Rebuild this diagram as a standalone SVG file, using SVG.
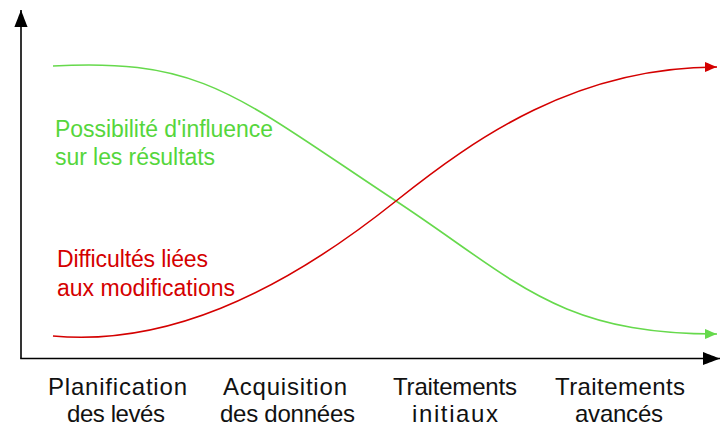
<svg xmlns="http://www.w3.org/2000/svg" width="721" height="427" viewBox="0 0 721 427">
  <style>
    .lbl { font-family: "Liberation Sans", Arial, sans-serif; font-size: 23px; }
    .tick { font-family: "Liberation Sans", Arial, sans-serif; font-size: 24px; fill: #111; }
    .axis { stroke: #000; stroke-width: 1.6; fill: none; }
    .curve { stroke-width: 1.6; fill: none; stroke-linecap: butt; }
    .red { stroke: #d40000; }
    .green { stroke: #66d94c; }
    .tred { fill: #d40000; }
    .tgreen { fill: #55d63c; }
  </style>
  <defs>
    <marker id="axArrow" markerUnits="userSpaceOnUse" orient="auto" markerWidth="20" markerHeight="16" viewBox="-18 -8 20 16" refX="0" refY="0" overflow="visible">
      <path d="M0,0 C-4,-1.6 -12,-4.6 -17,-6.6 L-17,6.6 C-12,4.6 -4,1.6 0,0 Z" fill="#000"/>
    </marker>
    <marker id="redArrow" markerUnits="userSpaceOnUse" orient="auto" markerWidth="14" markerHeight="12" viewBox="-13 -6 14 12" refX="0" refY="0" overflow="visible">
      <path d="M0,0 C-3,-1.2 -8,-3.2 -12,-5 L-12,5 C-8,3.2 -3,1.2 0,0 Z" fill="#d40000"/>
    </marker>
    <marker id="greenArrow" markerUnits="userSpaceOnUse" orient="auto" markerWidth="14" markerHeight="12" viewBox="-13 -6 14 12" refX="0" refY="0" overflow="visible">
      <path d="M0,0 C-3,-1.2 -8,-3.2 -12,-5 L-12,5 C-8,3.2 -3,1.2 0,0 Z" fill="#66d94c"/>
    </marker>
  </defs>

  <g id="axes">
    <line class="axis" x1="21" y1="358.5" x2="21" y2="10" marker-end="url(#axArrow)"/>
    <line class="axis" x1="20.2" y1="358.5" x2="720" y2="358.5" marker-end="url(#axArrow)"/>
  </g>

  <g id="connectors">
    <path id="curve-influence" class="curve green" d="M53,66 C203,58 236,95.4 396,201 C516,280 557,334 717,334" marker-end="url(#greenArrow)"/>
    <path id="curve-difficulty" class="curve red" d="M53,336 C163,346 276,297 396,201 C476,137 577,67 717,67" marker-end="url(#redArrow)"/>
  </g>

  <g id="label-influence">
    <text class="lbl tgreen" x="55" y="137" textLength="218" lengthAdjust="spacing">Possibilité d'influence</text>
    <text class="lbl tgreen" x="55" y="165" textLength="160" lengthAdjust="spacing">sur les résultats</text>
  </g>
  <g id="label-difficulty">
    <text class="lbl tred" x="57" y="267" textLength="151" lengthAdjust="spacing">Difficultés liées</text>
    <text class="lbl tred" x="57" y="296" textLength="178" lengthAdjust="spacing">aux modifications</text>
  </g>

  <g id="tick-planification">
    <text class="tick" x="48" y="395" textLength="139" lengthAdjust="spacing">Planification</text>
    <text class="tick" x="67" y="422" textLength="98" lengthAdjust="spacing">des levés</text>
  </g>
  <g id="tick-acquisition">
    <text class="tick" x="223" y="395" textLength="124" lengthAdjust="spacing">Acquisition</text>
    <text class="tick" x="220" y="422" textLength="135" lengthAdjust="spacing">des données</text>
  </g>
  <g id="tick-initiaux">
    <text class="tick" x="393" y="395" textLength="124" lengthAdjust="spacing">Traitements</text>
    <text class="tick" x="412" y="422" textLength="86" lengthAdjust="spacing">initiaux</text>
  </g>
  <g id="tick-avances">
    <text class="tick" x="555" y="395" textLength="130" lengthAdjust="spacing">Traitements</text>
    <text class="tick" x="575" y="422" textLength="88" lengthAdjust="spacing">avancés</text>
  </g>
</svg>
